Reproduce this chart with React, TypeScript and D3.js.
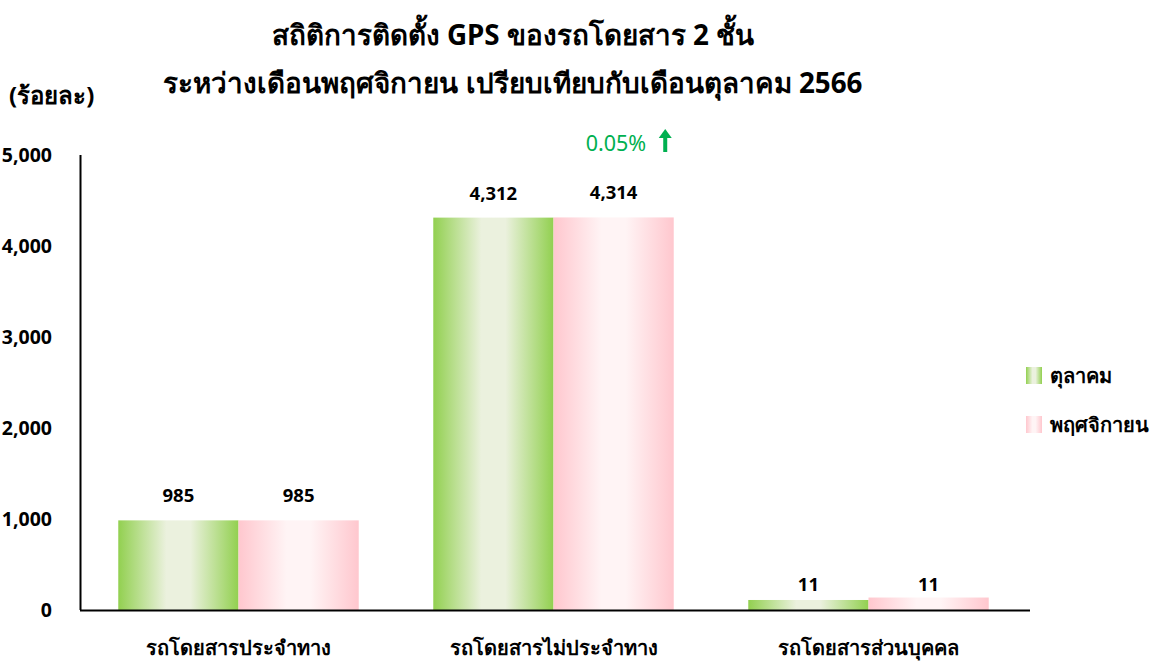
import React, { useEffect, useRef } from 'react'
import * as d3 from 'd3'

// categories and series
const categories = ['รถโดยสารประจำทาง', 'รถโดยสารไม่ประจำทาง', 'รถโดยสารส่วนบุคคล']
const seriesNames = ['ตุลาคม', 'พฤศจิกายน']
// values as labelled
const octValues = [985, 4312, 11]
const novValues = [985, 4314, 11]
// bar heights as drawn in the picture (the small group is drawn taller than its value)
const octBarValues = [985, 4312, 110]
const novBarValues = [985, 4314, 137]
const yTicks = [0, 1000, 2000, 3000, 4000, 5000]

const titleLines = [
  'สถิติการติดตั้ง GPS ของรถโดยสาร 2 ชั้น',
  'ระหว่างเดือนพฤศจิกายน เปรียบเทียบกับเดือนตุลาคม 2566',
]
const unitLabel = '(ร้อยละ)'
const changeNote = '0.05%'

const FONT = "Tahoma, 'Noto Sans', 'DejaVu Sans', sans-serif"

const Chart: React.FC = () => {
  const svgRef = useRef<SVGSVGElement | null>(null)

  useEffect(() => {
    const width = 1171
    const height = 666
    const svg = d3.select(svgRef.current)
    svg.attr('width', width).attr('height', height)
    svg.selectAll('*').remove()

    const defs = svg.append('defs')
    const grads = [
      { id: 'gGreen', edge: '#92d050', mid: '#ebf1de' },
      { id: 'gPink', edge: '#ffc7ce', mid: '#fff4f5' },
    ]
    grads.forEach((g) => {
      const lg = defs.append('linearGradient').attr('id', g.id).attr('x1', '0').attr('x2', '1').attr('y1', '0').attr('y2', '0')
      lg.append('stop').attr('offset', '0').attr('stop-color', g.edge)
      lg.append('stop').attr('offset', '0.4').attr('stop-color', g.mid)
      lg.append('stop').attr('offset', '0.6').attr('stop-color', g.mid)
      lg.append('stop').attr('offset', '1').attr('stop-color', g.edge)
    })
    const fills = ['url(#gGreen)', 'url(#gPink)']

    const x0 = d3.scaleBand().domain(categories).range([81, 1026]).padding(0)
    const x1 = d3.scaleBand().domain(seriesNames).range([0, x0.bandwidth()]).paddingInner(0).paddingOuter(0.31)
    const y = d3.scaleLinear().domain([0, 5000]).range([610, 155])

    // title
    svg.append('g')
      .selectAll('text')
      .data(titleLines)
      .enter()
      .append('text')
      .attr('x', 513)
      .attr('y', (_, i) => 45 + i * 48)
      .attr('text-anchor', 'middle')
      .style('font-family', FONT)
      .style('font-weight', 'bold')
      .style('font-size', '27.8px')
      .attr('fill', '#000')
      .text((d) => d)

    svg.append('text')
      .attr('x', 9)
      .attr('y', 104)
      .style('font-family', FONT)
      .style('font-weight', 'bold')
      .style('font-size', '24px')
      .text(unitLabel)

    // y axis tick labels
    svg.append('g')
      .selectAll('text')
      .data(yTicks)
      .enter()
      .append('text')
      .attr('x', 52)
      .attr('y', (d) => y(d))
      .attr('dy', '0.35em')
      .attr('text-anchor', 'end')
      .style('font-family', FONT)
      .style('font-weight', 'bold')
      .style('font-size', '19.5px')
      .text((d) => d3.format(',')(d))

    // bars
    const series = [
      { name: seriesNames[0], values: octValues, bars: octBarValues },
      { name: seriesNames[1], values: novValues, bars: novBarValues },
    ]
    series.forEach((s, si) => {
      const g = svg.append('g')
      g.selectAll('rect')
        .data(categories)
        .enter()
        .append('rect')
        .attr('x', (c) => x0(c)! + x1(s.name)!)
        .attr('y', (_, i) => y(s.bars[i]))
        .attr('width', x1.bandwidth())
        .attr('height', (_, i) => y(0) - y(s.bars[i]))
        .attr('fill', fills[si])
      g.selectAll('text')
        .data(categories)
        .enter()
        .append('text')
        .attr('x', (c) => x0(c)! + x1(s.name)! + x1.bandwidth() / 2)
        .attr('y', (_, i) => y(s.values[i]) - 18)
        .attr('text-anchor', 'middle')
        .style('font-family', FONT)
        .style('font-weight', 'bold')
        .style('font-size', '18.5px')
        .text((_, i) => d3.format(',')(s.values[i]))
    })

    // change annotation above the second group
    const barRight = x0(categories[1])! + x1(seriesNames[1])! + x1.bandwidth()
    svg.append('text')
      .attr('x', barRight - 88)
      .attr('y', 151)
      .style('font-family', FONT)
      .style('font-size', '21.5px')
      .attr('fill', '#00b050')
      .text(changeNote)
    const ax = barRight - 8.5
    const arrow = svg.append('g').attr('fill', '#00b050')
    arrow.append('rect').attr('x', ax - 2).attr('y', 135).attr('width', 4).attr('height', 17)
    arrow.append('path').attr('d', `M${ax - 6.5},138 L${ax},129 L${ax + 6.5},138 Z`)

    // axes lines
    svg.append('line')
      .attr('x1', 80.5).attr('x2', 80.5)
      .attr('y1', y(5000)).attr('y2', y(0))
      .attr('stroke', '#000').attr('stroke-width', 2)
    svg.append('line')
      .attr('x1', 80).attr('x2', 1030)
      .attr('y1', y(0) + 0.5).attr('y2', y(0) + 0.5)
      .attr('stroke', '#000').attr('stroke-width', 2)

    // category labels
    svg.append('g')
      .selectAll('text')
      .data(categories)
      .enter()
      .append('text')
      .attr('x', (c) => x0(c)! + x0.bandwidth() / 2)
      .attr('y', 655)
      .attr('text-anchor', 'middle')
      .style('font-family', FONT)
      .style('font-weight', 'bold')
      .style('font-size', '20px')
      .text((d) => d)

    // legend
    const legend = svg.append('g')
    seriesNames.forEach((n, i) => {
      legend.append('rect')
        .attr('x', 1026)
        .attr('y', 367 + i * 49)
        .attr('width', 16)
        .attr('height', 17)
        .attr('fill', fills[i])
      legend.append('text')
        .attr('x', 1050)
        .attr('y', 383 + i * 49)
        .style('font-family', FONT)
        .style('font-weight', 'bold')
        .style('font-size', '20px')
        .text(n)
    })
  }, [])

  return (
    <div style={{ width: '100%' }}>
      <svg ref={svgRef} style={{ display: 'block', position: 'absolute', left: 0, top: 0 }}></svg>
    </div>
  )
}

export default function App() {
  return <Chart />
}
